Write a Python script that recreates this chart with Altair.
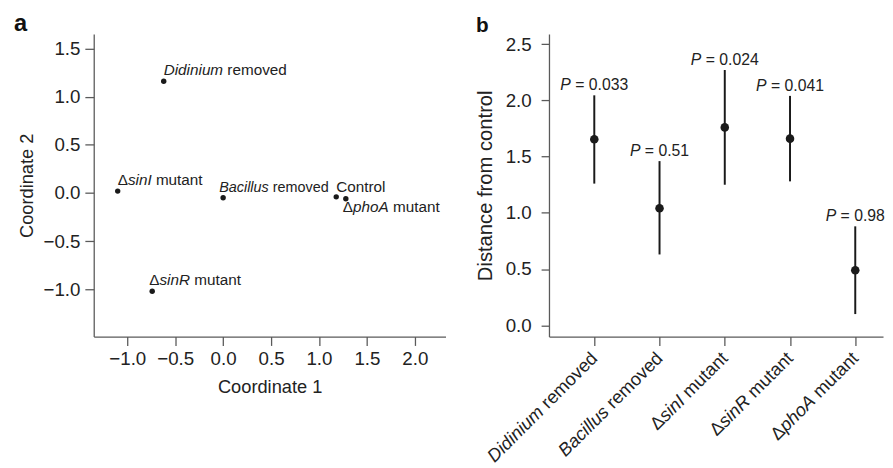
import altair as alt
import pandas as pd

# ---------------- data ----------------
# panel a: principal coordinates
A_LABELS = ["*Didinium* removed", "Δ*sinI* mutant", "*Bacillus* removed",
            "Control", "Δ*phoA* mutant", "Δ*sinR* mutant"]
A_COORD1 = [-0.62, -1.10, 0.00, 1.18, 1.28, -0.74]
A_COORD2 = [1.16, 0.02, -0.05, -0.04, -0.06, -1.02]

# panel b: distance from control with intervals
B_LABELS = ["*Didinium* removed", "*Bacillus* removed", "Δ*sinI* mutant",
            "Δ*sinR* mutant", "Δ*phoA* mutant"]
B_DIST = [1.655, 1.04, 1.76, 1.66, 0.49]
B_LOW = [1.26, 0.63, 1.25, 1.28, 0.10]
B_HIGH = [2.045, 1.46, 2.27, 2.04, 0.88]
B_P = ["0.033", "0.51", "0.024", "0.041", "0.98"]

A_XTICKS = [-1.0, -0.5, 0.0, 0.5, 1.0, 1.5, 2.0]
A_YTICKS = [-1.0, -0.5, 0.0, 0.5, 1.0, 1.5]
B_YTICKS = [0.0, 0.5, 1.0, 1.5, 2.0, 2.5]
PANEL_TAGS = ["a", "b"]

# ---------------- style ----------------
FONT = "Liberation Sans"
TXT = "#222222"
AXC = "#5a5a5a"
DOT = "#1a1a1a"

# Arial / Liberation Sans advance widths (per 1000 em)
W = {" ": 278, ".": 278, "=": 584, "Δ": 668,
     "A": 667, "B": 667, "C": 722, "D": 722, "I": 278, "P": 667, "R": 722,
     "a": 556, "b": 556, "c": 500, "d": 556, "e": 556, "f": 278, "h": 556,
     "i": 222, "l": 222, "m": 833, "n": 556, "o": 556, "p": 556, "r": 333,
     "s": 500, "t": 278, "u": 556, "v": 500}
for dgt in "0123456789":
    W[dgt] = 556


def tw(s, size):
    return sum(W.get(ch, 556) for ch in s) / 1000.0 * size


def segments(markup):
    parts = markup.split("*")
    return [(p, i % 2 == 1) for i, p in enumerate(parts) if p]


def style(ital):
    return "italic" if ital else "normal"


# ---------------- panel a ----------------
AW, AH = 357, 307
df_a = pd.DataFrame({"idx": range(len(A_LABELS)), "c1": A_COORD1, "c2": A_COORD2})
xa = alt.X("c1:Q", scale=alt.Scale(domain=[-1.35, 2.32], nice=False, zero=False),
           axis=alt.Axis(values=A_XTICKS, format=".1f", title="Coordinate 1",
                         titlePadding=10, labelPadding=4, tickSize=9))
ya = alt.Y("c2:Q", scale=alt.Scale(domain=[-1.49, 1.65], nice=False, zero=False),
           axis=alt.Axis(values=A_YTICKS, format=".1f", title="Coordinate 2",
                         titlePadding=7, labelPadding=5, tickSize=9))

base_a = alt.Chart(df_a)
layers_a = [base_a.mark_circle(size=30, color=DOT, opacity=1).encode(x=xa, y=ya)]

A_FS = 15.5
A_FS_LABEL = {2: 14.6}
# label offsets relative to the point (style)
A_OFF = {0: (0, -6), 1: (0, -6), 2: (-4, -6), 3: (0, -5), 4: (-3, 13), 5: (-3, -6)}
for i, lab in enumerate(A_LABELS):
    ox, oy = A_OFF[i]
    fs = A_FS_LABEL.get(i, A_FS)
    cum = 0.0
    for seg, ital in segments(lab):
        lead = len(seg) - len(seg.lstrip(" "))
        shown = seg.lstrip(" ")
        layers_a.append(
            base_a.transform_filter(alt.datum.idx == i)
            .mark_text(text=shown, align="left", baseline="alphabetic",
                       dx=ox + cum + tw(" " * lead, fs), dy=oy,
                       font=FONT, fontSize=fs, fontStyle=style(ital), color=TXT)
            .encode(x="c1:Q", y="c2:Q"))
        cum += tw(seg, fs)

tag_a = pd.DataFrame({"t": [PANEL_TAGS[0]]})
layers_a.append(
    alt.Chart(tag_a).mark_text(align="left", baseline="alphabetic", font=FONT,
                               fontSize=24, fontWeight="bold", color="#111111")
    .encode(text="t:N", x=alt.value(-81), y=alt.value(-3)))

panel_a = alt.layer(*layers_a).properties(width=AW, height=AH)

# ---------------- panel b ----------------
BW, BH = 339, 307
keys = [f"k{i}" for i in range(len(B_LABELS))]
df_b = pd.DataFrame({"idx": range(len(B_LABELS)), "key": keys, "d": B_DIST,
                     "lo": B_LOW, "hi": B_HIGH})
xb = alt.X("key:N", sort=keys,
           scale=alt.Scale(type="point", padding=0.56, align=0.62),
           axis=alt.Axis(labels=False, title=None, tickSize=9))
yscale_b = alt.Scale(domain=[-0.1, 2.59], nice=False, zero=False)
yb = alt.Y("d:Q", scale=yscale_b,
           axis=alt.Axis(values=B_YTICKS, format=".1f", title="Distance from control",
                         titlePadding=10, labelPadding=10, labelFontSize=19,
                         titleFontSize=20.5))

base_b = alt.Chart(df_b)
layers_b = [
    base_b.mark_rule(strokeWidth=2, color=DOT).encode(
        x=xb, y=alt.Y("lo:Q", scale=yscale_b), y2="hi:Q"),
    base_b.mark_circle(size=75, color=DOT, opacity=1).encode(x=xb, y=yb),
]

P_FS = 16
for i, pv in enumerate(B_P):
    pieces = [("P", True), (" = " + pv, False)]
    total = sum(tw(s, P_FS) for s, _ in pieces)
    cum = -total / 2
    for seg, ital in pieces:
        lead = len(seg) - len(seg.lstrip(" "))
        layers_b.append(
            base_b.transform_filter(alt.datum.idx == i)
            .mark_text(text=seg.lstrip(" "), align="left", baseline="alphabetic",
                       dx=cum + tw(" " * lead, P_FS), dy=-5,
                       font=FONT, fontSize=P_FS, fontStyle=style(ital), color=TXT)
            .encode(x=alt.X("key:N", sort=keys), y=alt.Y("hi:Q", scale=yscale_b)))
        cum += tw(seg, P_FS)

XL_FS = 18.5
for i, lab in enumerate(B_LABELS):
    segs = segments(lab)
    after = 0.0
    for seg, ital in reversed(segs):
        layers_b.append(
            base_b.transform_filter(alt.datum.idx == i)
            .mark_text(text=seg.strip(" "), align="right", baseline="middle", angle=315,
                       dx=-after, font=FONT, fontSize=XL_FS, fontStyle=style(ital),
                       color=TXT)
            .encode(x=alt.X("key:N", sort=keys), y=alt.value(BH + 19)))
        after += tw(seg, XL_FS)

tag_b = pd.DataFrame({"t": [PANEL_TAGS[1]]})
layers_b.append(
    alt.Chart(tag_b).mark_text(align="left", baseline="alphabetic", font=FONT,
                               fontSize=21, fontWeight="bold", color="#111111")
    .encode(text="t:N", x=alt.value(-74), y=alt.value(-2)))

panel_b = alt.layer(*layers_b).properties(width=BW, height=BH)

chart = (
    alt.hconcat(panel_a, panel_b, spacing=30)
    .properties(padding={"left": 6, "top": 1, "right": 0, "bottom": 0})
    .configure_view(stroke=None)
    .configure_axis(grid=False, domainColor=AXC, tickColor=AXC, domainWidth=1.3,
                    tickWidth=1.3, tickSize=8, labelColor=TXT, titleColor=TXT,
                    labelFont=FONT, titleFont=FONT, labelFontSize=19,
                    titleFontSize=18.5, titleFontWeight="normal")
)

chart.save("out.html", embed_options={"renderer": "svg", "actions": False})
